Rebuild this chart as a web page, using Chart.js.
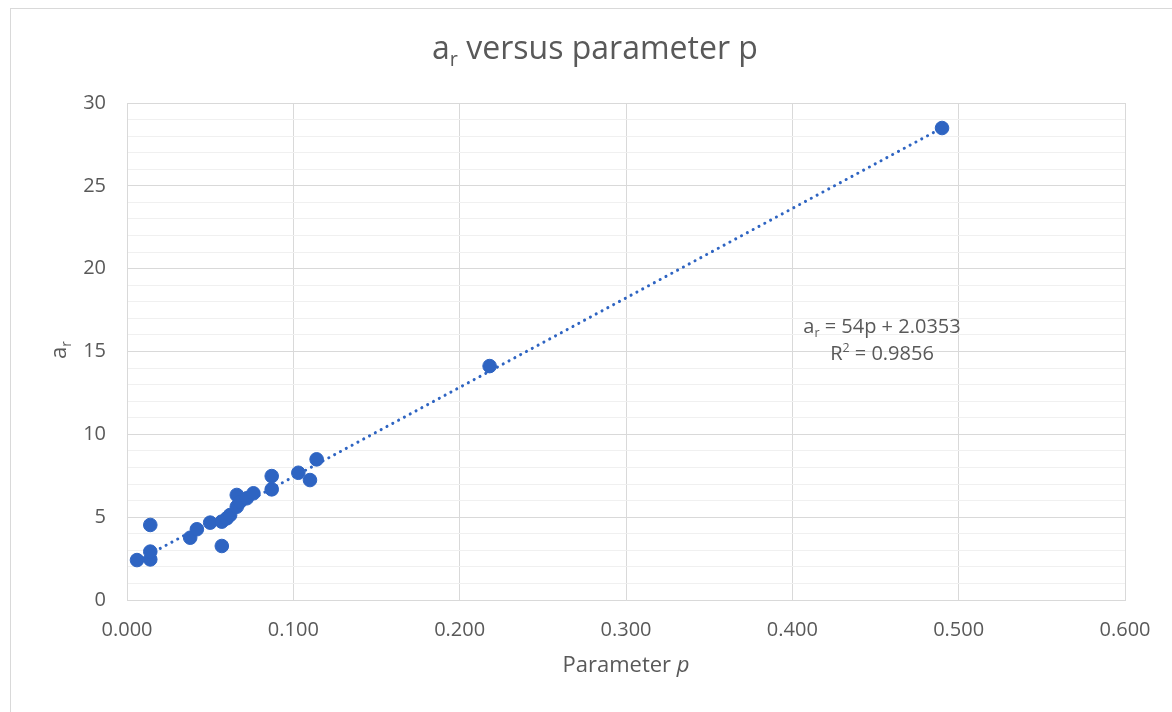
<!DOCTYPE html>
<html>
<head>
<meta charset="utf-8">
<script src="https://cdn.jsdelivr.net/npm/chart.js@4"></script>
<style>
  html, body { margin: 0; padding: 0; background: #fff; }
</style>
</head>
<body>
<canvas id="chart" width="1172" height="712"></canvas>
<script>
// data
const pValues = [0.006, 0.014, 0.014, 0.014, 0.038, 0.042, 0.050, 0.057, 0.057, 0.060,
                 0.062, 0.066, 0.066, 0.068, 0.072, 0.076, 0.087, 0.087, 0.103, 0.110,
                 0.114, 0.218, 0.490];
const arValues = [2.41, 2.45, 2.92, 4.53, 3.76, 4.27, 4.67, 3.26, 4.73, 4.93,
                  5.13, 5.63, 6.34, 5.93, 6.14, 6.44, 7.48, 6.68, 7.68, 7.24,
                  8.49, 14.12, 28.49];
const trendSlope = 54;
const trendIntercept = 2.0353;
const rSquared = "0.9856";
const xTickValues = [0, 0.1, 0.2, 0.3, 0.4, 0.5, 0.6];
const yTickValues = [0, 5, 10, 15, 20, 25, 30];

const FONT = "'Open Sans', sans-serif";
const TEXT = "#595959";
const BLUE = "#2e64c2";

const scatterPoints = pValues.map((p, i) => ({ x: p, y: arValues[i] }));
const pMin = Math.min(...pValues), pMax = Math.max(...pValues);
const trendPoints = [
  { x: pMin, y: trendSlope * pMin + trendIntercept },
  { x: pMax, y: trendSlope * pMax + trendIntercept }
];

// text made of runs (plain / subscript / superscript / italic)
function fontFor(r, size) {
  const s = r.sub || r.sup ? size * 0.62 : size;
  return (r.italic ? "italic " : "") + s + "px " + FONT;
}
function runsWidth(ctx, runs, size) {
  let w = 0;
  runs.forEach(r => { ctx.font = fontFor(r, size); w += ctx.measureText(r.t).width; });
  return w;
}
function centeredRuns(ctx, runs, cx, y, size) {
  let x = cx - runsWidth(ctx, runs, size) / 2;
  runs.forEach(r => {
    ctx.font = fontFor(r, size);
    const dy = r.sub ? size * 0.32 : (r.sup ? -size * 0.3 : 0);
    ctx.fillText(r.t, x, y + dy);
    x += ctx.measureText(r.t).width;
  });
}

const extras = {
  id: "extras",
  beforeDraw(chart) {
    const ctx = chart.ctx;
    ctx.save();
    ctx.strokeStyle = "#d9d9d9";
    ctx.lineWidth = 1;
    ctx.strokeRect(10.5, 8.5, chart.width + 20, chart.height + 20);
    ctx.restore();
  },
  afterDraw(chart) {
    const ctx = chart.ctx;
    ctx.save();
    ctx.fillStyle = TEXT;
    ctx.textBaseline = "middle";
    ctx.textAlign = "left";

    // title
    centeredRuns(ctx, [{ t: "a" }, { t: "r", sub: true }, { t: " versus parameter p" }], 595, 50, 32);

    // x axis title
    centeredRuns(ctx, [{ t: "Parameter " }, { t: "p", italic: true }], 626, 666, 22);

    // y axis title
    ctx.save();
    ctx.translate(60, 350);
    ctx.rotate(-Math.PI / 2);
    centeredRuns(ctx, [{ t: "a" }, { t: "r", sub: true }], 0, 0, 22);
    ctx.restore();

    // trendline label
    centeredRuns(ctx, [{ t: "a" }, { t: "r", sub: true }, { t: " = " + trendSlope + "p + " + trendIntercept }],
      882, 327, 20);
    centeredRuns(ctx, [{ t: "R" }, { t: "2", sup: true }, { t: " = " + rSquared }], 882, 354, 20);
    ctx.restore();
  }
};

new Chart(document.getElementById("chart").getContext("2d"), {
  type: "scatter",
  data: {
    datasets: [
      {
        label: "a_r",
        data: scatterPoints,
        backgroundColor: BLUE,
        borderColor: BLUE,
        pointRadius: 6.8,
        pointHoverRadius: 6.8,
        order: 1
      },
      {
        label: "trend",
        type: "line",
        data: trendPoints,
        borderColor: BLUE,
        borderWidth: 3,
        borderDash: [0.1, 6.5],
        borderCapStyle: "round",
        pointRadius: 0,
        fill: false,
        order: 2
      }
    ]
  },
  options: {
    responsive: false,
    animation: false,
    events: [],
    layout: { padding: { top: 103, right: 47, bottom: 0, left: 0 }, autoPadding: false },
    plugins: {
      legend: { display: false },
      title: { display: false },
      tooltip: { enabled: false }
    },
    scales: {
      x: {
        type: "linear",
        min: 0,
        max: 0.6,
        afterBuildTicks: axis => { axis.ticks = xTickValues.map(v => ({ value: v })); },
        afterFit: axis => { axis.height = 112; },
        ticks: {
          color: TEXT,
          font: { family: FONT, size: 20 },
          padding: 18,
          callback: v => Number(v).toFixed(3)
        },
        grid: { color: "#d9d9d9", drawTicks: false },
        border: { color: "#d9d9d9" }
      },
      y: {
        min: 0,
        max: 30,
        ticks: {
          stepSize: 1,
          color: TEXT,
          font: { family: FONT, size: 20 },
          padding: 21,
          autoSkip: false,
          callback: v => yTickValues.includes(v) ? String(v) : ""
        },
        afterFit: axis => { axis.width = 127; },
        grid: {
          drawTicks: false,
          color: c => (c.tick && c.tick.value % 5 === 0) ? "#d9d9d9" : "#f0f0f0"
        },
        border: { color: "#d9d9d9" }
      }
    }
  },
  plugins: [extras]
});
</script>
</body>
</html>
